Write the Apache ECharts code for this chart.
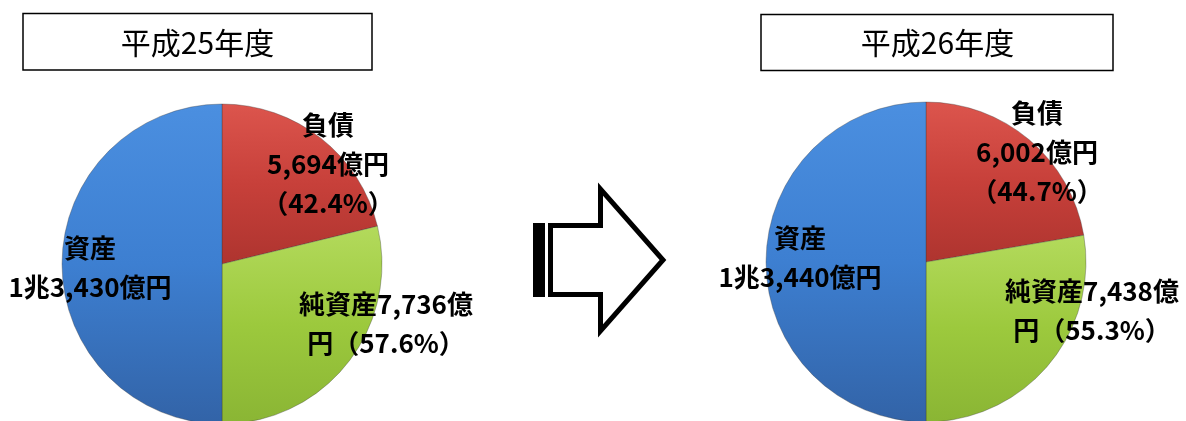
<!DOCTYPE html>
<html><head><meta charset="utf-8">
<script src="https://cdn.jsdelivr.net/npm/echarts@6/dist/echarts.min.js"></script>
<style>html,body{margin:0;padding:0;background:#fff}#c{width:1186px;height:421px}</style>
</head><body><div id="c"></div>
<script>
// ---- data ----
const years = ['平成25年度', '平成26年度'];
const categories = ['負債', '純資産', '資産'];
const values25 = [5694, 7736, 13430];
const values26 = [6002, 7438, 13440];

// ---- styles / layout ----
const FONT = '"Noto Sans CJK JP", "Noto Sans", sans-serif';
const colorsTop = ['#dc554d', '#b3da5c', '#4b8fe0'];
const colorsMid = ['#c7403a', '#9cc93d', '#3d7fd1'];
const colorsBot = ['#ae342f', '#8ab534', '#3263a7'];
const labelPos = [
  [[328, 164], [386, 324], [90, 268]],
  [[1037, 152], [1092, 311], [800, 258]]
];

function fmtNum(v) {
  if (v >= 10000) {
    const cho = Math.floor(v / 10000);
    const rest = v % 10000;
    return cho + '兆' + rest.toLocaleString('en-US');
  }
  return v.toLocaleString('en-US');
}
function makeSeries(vals, idx, center) {
  const assets = vals[2];
  return {
    type: 'pie',
    center: center,
    radius: 160,
    startAngle: 90,
    clockwise: true,
    silent: true,
    animation: false,
    labelLine: { show: false },
    label: {
      show: true,
      position: 'inside',
      color: '#000',
      fontFamily: FONT,
      fontWeight: 'bold',
      fontSize: 26,
      lineHeight: 39,
      align: 'center',
      formatter: function (p) {
        const v = vals[p.dataIndex];
        const pct = (v / assets * 100).toFixed(1);
        if (p.dataIndex === 0) return p.name + '\n' + fmtNum(v) + '億円\n（' + pct + '%）';
        if (p.dataIndex === 1) return p.name + fmtNum(v) + '億\n円（' + pct + '%）';
        return p.name + '\n' + fmtNum(v) + '億円';
      }
    },
    labelLayout: function (p) {
      const pos = labelPos[idx][p.dataIndex];
      return { x: pos[0], y: pos[1], align: 'center', verticalAlign: 'middle' };
    },
    data: categories.map((c, i) => ({
      name: c,
      value: vals[i],
      itemStyle: {
        color: {
          type: 'linear', x: 0, y: 0, x2: 0, y2: 1,
          colorStops: [
            { offset: 0, color: colorsTop[i] },
            { offset: 0.5, color: colorsMid[i] },
            { offset: 1, color: colorsBot[i] }
          ]
        },
        borderColor: 'rgba(60,60,60,0.35)',
        borderWidth: 1
      }
    }))
  };
}

const chart = echarts.init(document.getElementById('c'), null, { renderer: 'canvas' });
chart.setOption({
  animation: false,
  series: [
    makeSeries(values25, 0, [222, 264]),
    makeSeries(values26, 1, [926, 262])
  ],
  graphic: [
    { type: 'rect', shape: { x: 23, y: 13.5, width: 349, height: 56.5 }, style: { fill: '#fff', stroke: '#000', lineWidth: 1.5 } },
    { type: 'text', x: 197.5, y: 43, style: { text: years[0], font: '30px ' + FONT, fill: '#000', textAlign: 'center', textVerticalAlign: 'middle' } },
    { type: 'rect', shape: { x: 761, y: 14.5, width: 352, height: 56 }, style: { fill: '#fff', stroke: '#000', lineWidth: 1.5 } },
    { type: 'text', x: 937.5, y: 43, style: { text: years[1], font: '30px ' + FONT, fill: '#000', textAlign: 'center', textVerticalAlign: 'middle' } },
    // arrow
    { type: 'rect', shape: { x: 533, y: 223, width: 12, height: 74 }, style: { fill: '#000' } },
    { type: 'polygon', shape: { points: [[550.5, 225.5], [600.5, 225.5], [600.5, 189], [663, 260], [600.5, 331], [600.5, 294.5], [550.5, 294.5]] },
      style: { fill: '#fff', stroke: '#000', lineWidth: 5, lineJoin: 'miter' } }
  ]
});
</script></body></html>
